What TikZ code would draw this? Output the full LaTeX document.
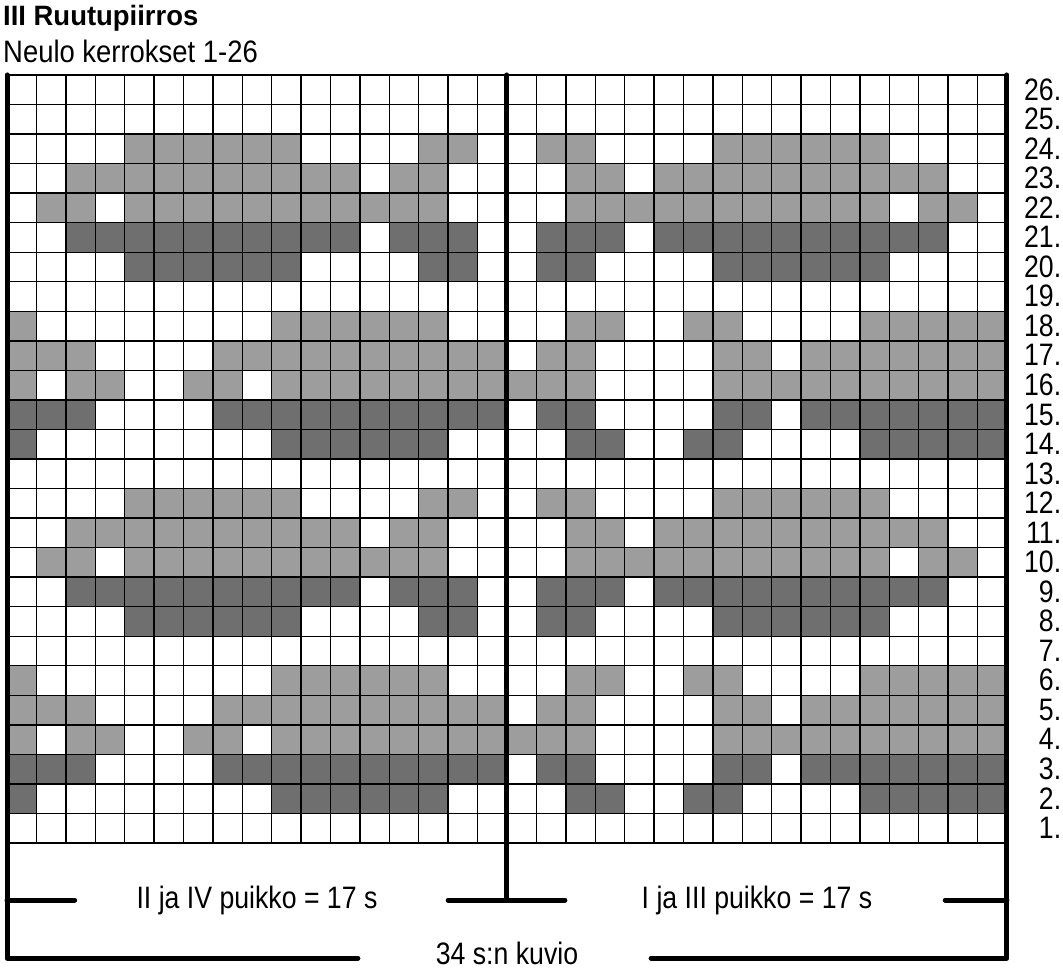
\documentclass[tikz,border=0pt]{standalone}
\usepackage{fontspec}
\setmainfont[FakeStretch=0.86]{Liberation Sans}
\newfontfamily\titlefont[FakeStretch=0.98]{Liberation Sans Bold}
\newfontfamily\headfont[FakeStretch=0.885]{Liberation Sans}
\usepackage{tikz}

\definecolor{lightgrey}{HTML}{9D9D9D}
\definecolor{darkgrey}{HTML}{6F6F6F}

% 0 = white, 1 = light, 2 = dark; rows 1 and 7 are white
\newcommand{\rowtwo}{2,0,0,0,0,0,0,0,0,2,2,2,2,2,2,0,0,0,0,2,2,0,0,2,2,0,0,0,0,2,2,2,2,2}
\newcommand{\rowthree}{2,2,2,0,0,0,0,2,2,2,2,2,2,2,2,2,2,0,2,2,0,0,0,0,2,2,0,2,2,2,2,2,2,2}
\newcommand{\rowfour}{1,0,1,1,0,0,1,1,0,1,1,1,1,1,1,1,1,1,1,1,0,0,0,0,1,1,1,1,1,1,1,1,1,1}
\newcommand{\rowfive}{1,1,1,0,0,0,0,1,1,1,1,1,1,1,1,1,1,0,1,1,0,0,0,0,1,1,0,1,1,1,1,1,1,1}
\newcommand{\rowsix}{1,0,0,0,0,0,0,0,0,1,1,1,1,1,1,0,0,0,0,1,1,0,0,1,1,0,0,0,0,1,1,1,1,1}
\newcommand{\roweight}{0,0,0,0,2,2,2,2,2,2,0,0,0,0,2,2,0,0,2,2,0,0,0,0,2,2,2,2,2,2,0,0,0,0}
\newcommand{\rownine}{0,0,2,2,2,2,2,2,2,2,2,2,0,2,2,2,0,0,2,2,2,0,2,2,2,2,2,2,2,2,2,2,0,0}
\newcommand{\rowten}{0,1,1,0,1,1,1,1,1,1,1,1,1,1,1,0,0,0,0,1,1,1,1,1,1,1,1,1,1,1,0,1,1,0}
\newcommand{\roweleven}{0,0,1,1,1,1,1,1,1,1,1,1,0,1,1,0,0,0,0,1,1,0,1,1,1,1,1,1,1,1,1,1,0,0}
\newcommand{\rowtwelve}{0,0,0,0,1,1,1,1,1,1,0,0,0,0,1,1,0,0,1,1,0,0,0,0,1,1,1,1,1,1,0,0,0,0}

\begin{document}
\begin{tikzpicture}[x=29.41pt,y=29.54pt,font=\fontsize{31}{31}\selectfont]
\useasboundingbox (-0.238,-4.333) rectangle (35.906,28.538);

\coordinate (TL) at (0,26);
\coordinate (TM) at (17,26);
\coordinate (TR) at (34,26);
\coordinate (BL) at (0,-3.9);
\coordinate (BR) at (34,-3.9);
\coordinate (BLe) at (11.93,-3.9);
\coordinate (BRe) at (21.9,-3.9);
\coordinate (ML) at (0,-1.93);
\coordinate (MLe) at (2.3,-1.93);
\coordinate (MM) at (17,-1.93);
\coordinate (MMa) at (15,-1.93);
\coordinate (MMb) at (18.97,-1.93);
\coordinate (MRe) at (31.9,-1.93);
\coordinate (MR) at (34,-1.93);

% rows 1-12, then the same again as 13-24
\foreach \off in {0,12} {
  \foreach \r/\pat in {2/\rowtwo,3/\rowthree,4/\rowfour,5/\rowfive,6/\rowsix,
      8/\roweight,9/\rownine,10/\rowten,11/\roweleven,12/\rowtwelve} {
    \foreach \c in {1,...,34} {
      \pgfmathtruncatemacro\v{{\pat}[\c-1]}
      \ifcase\v\relax
      \or \fill [lightgrey] (\c-1,\r+\off-1) rectangle ++(1,1);
      \or \fill [darkgrey] (\c-1,\r+\off-1) rectangle ++(1,1);
      \fi
    }
  }
}

\foreach \i in {0,...,34}
  \draw [line width=1.4pt] (\i,0) -- (\i,26);
\foreach \j in {0,...,26}
  \draw [line width=1.4pt] (0,\j) -- (34,\j);

\draw [line width=5pt, line cap=round, line join=round] (TL) -- (BL) -- (BLe);
\draw [line width=5pt, line cap=round, line join=round] (TR) -- (BR) -- (BRe);
\draw [line width=5pt, line cap=round] (TM) -- (MM);
\draw [line width=5pt, line cap=round] (ML) -- (MLe);
\draw [line width=5pt, line cap=round] (MMa) -- (MMb);
\draw [line width=5pt, line cap=round] (MRe) -- (MR);

\foreach \r in {1,...,26}
  \node [anchor=base east, inner sep=0] (row\r) at (35.85,\r-0.85) {\r.};

\node [anchor=base west, inner sep=0] (title) at (-0.136,27.69)
  {\titlefont\fontsize{28}{28}\selectfont III Ruutupiirros};
\node [anchor=base west, inner sep=0] (subtitle) at (-0.136,26.42)
  {\headfont Neulo kerrokset 1-26};

\node [anchor=base, inner sep=0] (needleL) at (8.5,-2.2) {II ja IV puikko = 17 s};
\node [anchor=base, inner sep=0] (needleR) at (25.5,-2.2) {I ja III puikko = 17 s};
\node [anchor=base, inner sep=0] (total) at (17,-4.12) {34 s:n kuvio};

\end{tikzpicture}
\end{document}
